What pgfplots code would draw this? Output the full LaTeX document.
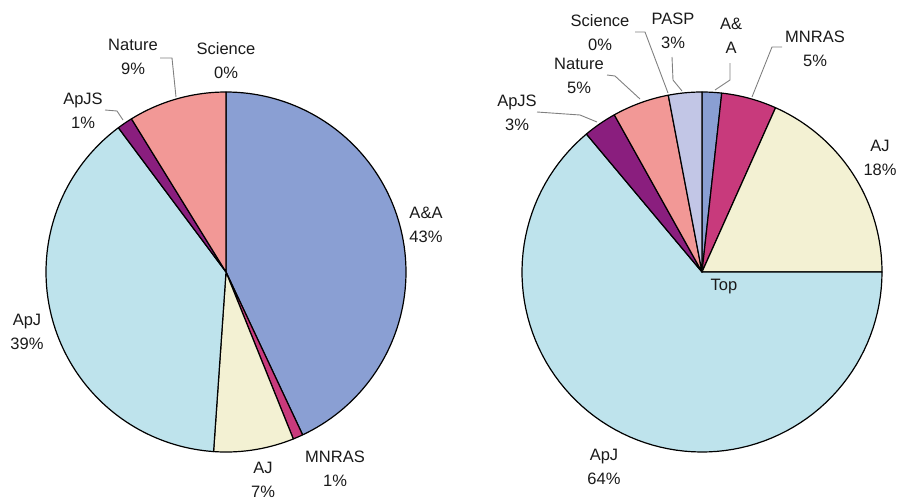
\documentclass[border=0pt]{standalone}
\usepackage{fontspec}
\setmainfont{Liberation Sans}
\usepackage{pgfplots}
\pgfplotsset{compat=1.18}
\definecolor{cAA}{HTML}{8A9FD3}
\definecolor{cMN}{HTML}{C83A7C}
\definecolor{cAJ}{HTML}{F3F1D3}
\definecolor{cApJ}{HTML}{BEE3EC}
\definecolor{cApJS}{HTML}{8A1E7E}
\definecolor{cNat}{HTML}{F29896}
\definecolor{cPASP}{HTML}{C2C6E6}
\definecolor{lead}{HTML}{808080}
\definecolor{txt}{HTML}{1A1A1A}
\tikzset{lbl/.style={align=center, inner sep=0pt, text=txt, font=\fontsize{16.5}{24}\selectfont}}
\newcommand\pieinit{\gdef\cum{0}}
\newcommand\slice[4]{% cx, cy, percent, colour
  \pgfmathsetmacro\sliceA{3.6*\cum}%
  \pgfmathsetmacro\sliceB{3.6*(\cum+#3)}%
  \pgfmathsetmacro\newcum{\cum+#3}\xdef\cum{\newcum}%
  \edef\doslice{\noexpand\addplot[fill=#4, draw=black, line width=1.2pt, line join=round, domain=\sliceA:\sliceB, samples=90] ({#1+180*sin(x)}, {#2-180*cos(x)}) -- (axis cs:#1,#2) -- cycle;}%
  \doslice}
\begin{document}
\begin{tikzpicture}
\begin{axis}[width=899pt, height=501pt, scale only axis,
  xmin=0, xmax=899, ymin=0, ymax=501, y dir=reverse,
  axis lines=none, clip=false]
\addplot[draw=none] coordinates {(0,0) (899,501)};
% ---- left pie: centre (226,272), shares in percent, clockwise from top
\pieinit
\slice{226}{272}{43.0}{cAA}   % A&A
\slice{226}{272}{0.9}{cMN}    % MNRAS
\slice{226}{272}{7.2}{cAJ}    % AJ
\slice{226}{272}{38.7}{cApJ}  % ApJ
\slice{226}{272}{1.4}{cApJS}  % ApJS
\slice{226}{272}{8.8}{cNat}   % Nature
% Science 0
% ---- right pie: centre (702,272)
\pieinit
\slice{702}{272}{1.75}{cAA}   % A&A
\slice{702}{272}{4.95}{cMN}   % MNRAS
\slice{702}{272}{18.3}{cAJ}   % AJ
\slice{702}{272}{63.9}{cApJ}  % ApJ
\slice{702}{272}{3.0}{cApJS}  % ApJS
\slice{702}{272}{5.1}{cNat}   % Nature
% Science 0
\slice{702}{272}{3.0}{cPASP}  % PASP
% leader lines
\addplot[lead, line width=0.9pt, mark=none] coordinates {(160,58) (172,58) (176,97)};
\addplot[lead, line width=0.9pt, mark=none] coordinates {(105,110) (117,111) (123,120)};
\addplot[lead, line width=0.9pt, mark=none] coordinates {(635,32) (645,32) (668,93)};
\addplot[lead, line width=0.9pt, mark=none] coordinates {(672,57) (673,80) (682,91)};
\addplot[lead, line width=0.9pt, mark=none] coordinates {(730,63) (730,80) (715,90)};
\addplot[lead, line width=0.9pt, mark=none] coordinates {(782,47) (772,47) (752,97)};
\addplot[lead, line width=0.9pt, mark=none] coordinates {(607,75) (615,76) (640,99)};
\addplot[lead, line width=0.9pt, mark=none] coordinates {(537,112) (580,115) (597,122)};
% labels left
\node[lbl] at (axis cs:133,57) {Nature\\9\%};
\node[lbl] at (axis cs:226,61) {Science\\0\%};
\node[lbl] at (axis cs:83,111) {ApJS\\1\%};
\node[lbl] at (axis cs:426,224.5) {A\&A\\43\%};
\node[lbl] at (axis cs:27,332) {ApJ\\39\%};
\node[lbl] at (axis cs:263,479.5) {AJ\\7\%};
\node[lbl] at (axis cs:335,469) {MNRAS\\1\%};
% labels right
\node[lbl] at (axis cs:600,33) {Science\\0\%};
\node[lbl] at (axis cs:673,30.5) {PASP\\3\%};
\node[lbl] at (axis cs:731,35.5) {A\&\\A};
\node[lbl] at (axis cs:815,48.5) {MNRAS\\5\%};
\node[lbl] at (axis cs:579,76) {Nature\\5\%};
\node[lbl] at (axis cs:517,113) {ApJS\\3\%};
\node[lbl] at (axis cs:880,157.5) {AJ\\18\%};
\node[lbl, anchor=base] at (axis cs:724,290) {Top};
\node[lbl] at (axis cs:604,467) {ApJ\\64\%};
\end{axis}
\end{tikzpicture}
\end{document}
